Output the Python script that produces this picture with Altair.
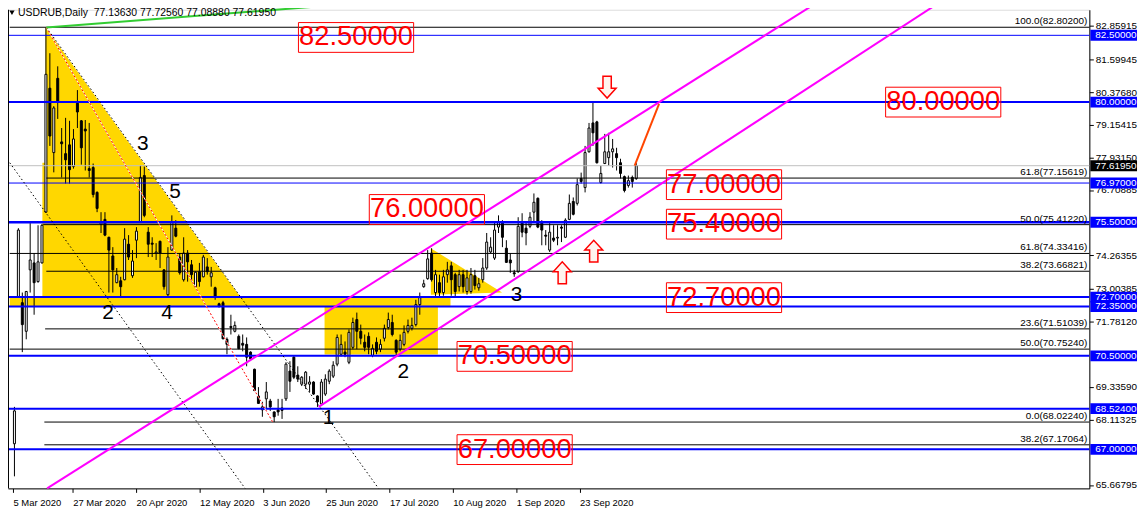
import altair as alt
import pandas as pd

W, H = 1089, 482
X_MIN = -0.375
X_MAX = X_MIN + W / 4.0
Y_MIN, Y_MAX = 65.539, 83.457
FONT = "Liberation Sans"

# ---------------- candles (daily bars, index 0 = first visible bar) ----------------
opens = [67.21, 72.72, 72.49, 71.42, 73.72, 73.98, 73.28, 73.98, 75.88, 80.52,
         78.11, 80.89, 78.51, 78.07, 78.40, 77.59, 79.96, 79.30, 78.99, 77.51,
         77.55, 76.62, 75.43, 75.61, 74.94, 74.24, 73.24, 73.31, 73.35, 74.68,
         73.50, 74.83, 75.50, 77.25, 75.13, 74.72, 74.35, 74.79, 73.72, 72.79,
         74.46, 75.28, 74.20, 73.35, 74.35, 73.91, 73.09, 73.65, 73.46, 73.83,
         73.46, 73.05, 72.45, 72.49, 71.12, 71.60, 71.42, 71.23, 70.97, 70.93,
         70.64, 70.00, 69.00, 68.48, 68.89, 68.81, 68.40, 68.48, 68.55, 68.89,
         69.93, 70.45, 69.78, 69.44, 69.44, 69.44, 69.52, 69.00, 68.70, 69.07,
         69.55, 69.74, 70.19, 70.56, 70.64, 70.26, 70.82, 71.86, 71.42, 71.01,
         71.23, 70.52, 71.01, 70.75, 71.16, 71.56, 71.75, 71.08, 70.75, 70.93,
         71.42, 71.53, 71.67, 72.42, 73.09, 73.39, 74.35, 72.87, 73.24, 72.87,
         73.54, 73.87, 73.54, 73.09, 73.54, 72.91, 72.91, 73.50, 73.05, 73.35,
         73.79, 74.39, 74.16, 75.32, 75.47, 74.53, 74.09, 73.61, 73.65, 75.47,
         75.28, 75.35, 75.88, 76.40, 75.47, 75.02, 74.46, 74.91, 74.91, 75.32,
         74.94, 75.61, 76.28, 76.21, 77.14, 76.80, 78.14, 79.22, 79.26, 76.99,
         77.70, 77.92, 78.14, 78.07, 77.73, 77.21, 76.88, 77.18, 77.1363]
highs = [68.59, 75.28, 72.87, 72.93, 75.47, 74.35, 75.39, 75.43, 82.802, 81.83,
         79.85, 81.34, 79.03, 79.41, 79.30, 78.99, 80.45, 79.33, 79.33, 79.22,
         77.70, 76.66, 75.88, 75.88, 74.96, 74.57, 73.79, 73.46, 75.28, 75.02,
         74.46, 75.32, 77.62, 77.59, 75.32, 74.94, 74.72, 74.81, 73.74, 74.57,
         75.76, 75.58, 74.35, 74.94, 74.46, 74.09, 73.66, 73.98, 74.28, 74.16,
         73.83, 73.09, 72.49, 72.56, 71.19, 72.04, 71.79, 71.30, 71.30, 71.19,
         70.67, 70.02, 69.33, 68.78, 69.52, 68.89, 68.42, 68.89, 68.89, 70.26,
         70.30, 70.52, 70.11, 69.74, 69.93, 69.74, 69.55, 69.02, 69.63, 69.81,
         70.00, 70.30, 71.30, 71.30, 71.04, 71.49, 71.93, 72.12, 71.67, 71.30,
         71.38, 70.93, 71.19, 71.12, 71.67, 72.12, 72.04, 71.12, 71.30, 71.64,
         71.86, 71.93, 72.60, 72.87, 73.35, 74.46, 74.53, 73.72, 73.54, 73.72,
         74.02, 74.02, 73.61, 73.72, 73.72, 73.72, 73.79, 73.72, 73.42, 74.16,
         75.10, 74.94, 75.50, 75.76, 75.58, 74.83, 74.35, 73.72, 75.69, 75.84,
         75.50, 75.88, 76.58, 76.43, 75.58, 75.21, 75.47, 75.39, 75.39, 75.39,
         75.65, 76.54, 76.43, 77.14, 77.36, 78.36, 79.22, 79.98, 79.30, 77.62,
         78.81, 78.85, 78.62, 78.29, 77.88, 77.25, 77.25, 77.25, 77.7256]
lows = [65.99, 72.70, 70.64, 71.12, 72.87, 72.04, 73.24, 73.96, 75.86, 78.36,
        77.37, 79.37, 77.18, 76.95, 76.95, 77.51, 79.03, 77.66, 77.44, 77.18,
        76.43, 75.88, 75.10, 74.98, 72.87, 72.87, 73.22, 72.72, 73.33, 74.09,
        73.42, 74.16, 75.48, 75.69, 74.20, 74.20, 74.09, 73.79, 72.98, 72.72,
        74.44, 74.94, 73.54, 73.28, 73.28, 73.28, 73.05, 73.09, 73.44, 73.54,
        73.09, 72.60, 72.32, 71.12, 70.56, 71.30, 71.38, 70.75, 70.67, 70.11,
        70.37, 69.18, 68.70, 68.22, 68.51, 68.44, 68.02, 68.26, 68.14, 68.81,
        69.15, 69.63, 69.52, 69.37, 69.26, 69.15, 69.04, 68.59, 68.63, 69.00,
        69.44, 69.67, 70.11, 70.48, 70.45, 70.19, 70.75, 70.75, 70.93, 70.67,
        70.56, 70.45, 70.56, 70.64, 71.04, 71.49, 71.23, 70.52, 70.67, 70.86,
        71.34, 71.45, 71.60, 72.04, 73.05, 73.35, 73.28, 72.72, 72.68, 72.75,
        73.24, 72.75, 72.72, 72.91, 72.87, 72.79, 72.83, 72.98, 72.94, 73.24,
        73.72, 74.35, 74.09, 75.10, 74.57, 73.98, 73.61, 73.46, 73.61, 74.94,
        74.64, 75.28, 75.50, 75.28, 74.64, 74.64, 74.39, 74.76, 74.64, 74.76,
        74.91, 75.58, 75.76, 76.13, 76.95, 76.62, 78.11, 78.36, 77.70, 76.95,
        77.68, 77.62, 77.55, 77.44, 77.14, 76.62, 76.80, 76.80, 77.0888]
closes = [68.44, 75.21, 71.67, 72.91, 74.09, 73.24, 74.02, 75.39, 81.04, 78.73,
          79.78, 80.00, 78.44, 77.84, 77.47, 78.62, 79.63, 78.29, 78.92, 77.44,
          76.54, 76.02, 75.50, 75.02, 74.46, 73.72, 73.54, 73.09, 74.87, 74.20,
          74.05, 75.17, 77.18, 75.76, 74.68, 74.68, 74.39, 74.35, 73.09, 74.20,
          75.50, 74.98, 73.61, 74.35, 74.02, 73.54, 73.63, 73.28, 74.20, 73.65,
          73.61, 72.72, 72.34, 71.14, 70.93, 71.56, 71.64, 70.77, 70.90, 70.45,
          70.39, 69.20, 68.72, 68.59, 69.15, 68.59, 68.22, 68.40, 68.46, 70.19,
          69.55, 69.70, 69.63, 69.70, 69.89, 69.52, 69.07, 68.78, 69.52, 69.63,
          69.93, 70.15, 71.19, 70.93, 70.56, 71.38, 71.75, 71.42, 71.16, 70.82,
          70.82, 70.78, 70.67, 70.93, 71.53, 71.86, 71.30, 70.64, 71.08, 71.38,
          71.64, 71.64, 72.42, 72.68, 73.20, 74.13, 73.35, 73.54, 72.87, 73.46,
          73.72, 73.35, 72.91, 73.54, 73.09, 73.42, 73.54, 73.13, 73.20, 73.79,
          74.76, 74.57, 75.21, 75.50, 74.94, 74.00, 73.98, 73.57, 75.35, 75.13,
          75.10, 75.69, 76.25, 75.32, 75.21, 74.98, 75.13, 74.83, 74.94, 75.28,
          75.58, 76.21, 75.80, 76.91, 77.03, 78.11, 79.03, 78.85, 77.73, 77.33,
          78.14, 78.14, 78.25, 77.92, 77.33, 76.69, 77.06, 77.03, 77.6195]

# ---------------- x axis labels ----------------
x_tick_pos = [-0.37, 14.8, 30.9, 47.0, 63.1, 79.1, 95.3, 111.4, 127.5, 143.6]
x_tick_labels = ["5 Mar 2020", "27 Mar 2020", "20 Apr 2020", "12 May 2020", "3 Jun 2020",
                 "25 Jun 2020", "17 Jul 2020", "10 Aug 2020", "1 Sep 2020", "23 Sep 2020"]
# ---------------- y axis labels ----------------
y_ticks = [82.85915, 81.59945, 80.37680, 79.15415, 77.93150, 76.70885, 74.26355,
           73.00385, 71.78120, 69.33590, 68.11325, 65.66795]

# ---------------- horizontal levels ----------------
blue_levels = [82.5, 80.0, 76.97, 75.5, 72.7, 72.35, 70.5, 68.524, 67.0]
blue_widths = [1, 2, 1, 2.5, 2, 2, 2, 2, 2]
current_price = 77.6195

fib_levels = [82.802, 77.15619, 75.4122, 74.33416, 73.66821, 71.51039, 70.7524, 68.0224, 67.17064]
fib_labels = ["100.0(82.80200)", "61.8(77.15619)", "50.0(75.41220)", "61.8(74.33416)",
              "38.2(73.66821)", "23.6(71.51039)", "50.0(70.75240)", "0.0(68.02240)",
              "38.2(67.17064)"]
fib_start = [-1.2, 8.1, 7.3, -1.2, 8.1, 7.8, -1.2, 7.6, 7.6]

# ---------------- annotations ----------------
red_box_text = ["82.50000", "80.00000", "77.00000", "76.00000", "75.40000",
                "72.70000", "70.50000", "67.00000"]
red_box_i = [86.8, 236.0, 180.3, 104.8, 180.3, 180.3, 127.1, 127.1]
red_box_p = [82.42, 80.00, 76.91, 75.98, 75.43, 72.68, 70.48, 66.99]

wave_text = ["3", "5", "2", "4", "1", "2", "3"]
wave_i = [32.6, 40.8, 23.8, 38.8, 79.8, 98.8, 127.6]
wave_p = [78.44, 76.62, 72.12, 72.12, 68.18, 69.89, 72.79]

arrow_dir = ["down", "up", "up"]
arrow_i = [150.6, 139.2, 147.2]
arrow_p = [80.56, 73.61, 74.42]

# trend lines: (id, index, price)
magenta_id = ["upper", "upper", "lower", "lower"]
magenta_i = [8.3, 203.0, 77.3, 234.1]
magenta_p = [65.54, 83.64, 68.59, 83.64]

black_dot_id = ["hyp", "hyp", "left", "left"]
black_dot_i = [8.1, 92.5, -1.2, 58.6]
black_dot_p = [82.80, 65.54, 77.73, 65.54]

red_dot_i = [8.1, 65.6]
red_dot_p = [82.80, 68.03]

green_i = [8.1, 82.3]
green_p = [82.79, 83.64]

orange_i = [157.6, 163.8]
orange_p = [77.62, 79.93]

# yellow shapes
tri1_i = [7.1, 7.85, 7.9, 57.3]
tri1_top = [77.73, 77.73, 82.80, 72.72]
tri1_bot = [72.72, 72.72, 72.72, 72.72]
tri3_i = [105.8, 123.9]
tri3_top = [74.53, 72.87]
tri3_bot = [72.79, 72.87]
rect_i1 = [-1.2, 78.8]
rect_i2 = [110.8, 107.6]
rect_p1 = [72.35, 70.55]
rect_p2 = [72.74, 72.34]

header = "USDRUB,Daily\u00a0\u00a077.13630 77.72560 77.08880 77.61950"

# ---------------- build ----------------
xs = alt.Scale(domain=[X_MIN, X_MAX], nice=False, zero=False)
ys = alt.Scale(domain=[Y_MIN, Y_MAX], nice=False, zero=False)

label_expr = "''"
for v, lab in reversed(list(zip(x_tick_pos, x_tick_labels))):
    label_expr = f"abs(datum.value - ({v})) < 0.05 ? '{lab}' : {label_expr}"

x_axis = alt.Axis(values=x_tick_pos, labelExpr=label_expr, labelAlign="left",
                  labelFlush=False, labelOverlap=False, labelBound=False,
                  tickSize=4, labelPadding=5, domainColor="black", tickColor="black",
                  labelColor="black", labelFontSize=9.5, labelFont=FONT, grid=False, title=None)
y_axis = alt.Axis(orient="right", values=y_ticks, format=".5f", tickSize=4, labelPadding=2,
                  domainColor="black", tickColor="black", labelColor="black",
                  labelFontSize=10, labelFont=FONT, grid=False, title=None,
                  labelOverlap=False, labelFlush=False, labelBound=False)


def X(f):
    return alt.X(f, scale=xs, axis=x_axis)


def Y(f):
    return alt.Y(f, scale=ys, axis=y_axis)


cdf = pd.DataFrame({"i": list(range(len(opens))), "o": opens, "h": highs, "l": lows, "c": closes})

yellow = "#FFD700"
tri1 = alt.Chart(pd.DataFrame({"i": tri1_i, "t": tri1_top, "b": tri1_bot})).mark_area(
    color=yellow, opacity=1).encode(x=X("i:Q"), y=Y("t:Q"), y2="b:Q")
tri3 = alt.Chart(pd.DataFrame({"i": tri3_i, "t": tri3_top, "b": tri3_bot})).mark_area(
    color=yellow, opacity=1).encode(x=X("i:Q"), y=Y("t:Q"), y2="b:Q")
rects = alt.Chart(pd.DataFrame({"i1": rect_i1, "i2": rect_i2, "p1": rect_p1, "p2": rect_p2})).mark_rect(
    color=yellow, opacity=1).encode(x=X("i1:Q"), x2="i2:Q", y=Y("p1:Q"), y2="p2:Q")

wick = alt.Chart(cdf).mark_rule(color="black", strokeWidth=1).encode(
    x=X("i:Q"), y=Y("l:Q"), y2="h:Q")
body = alt.Chart(cdf).mark_bar(size=2, stroke="black", strokeWidth=1).encode(
    x=X("i:Q"), y=Y("o:Q"), y2="c:Q",
    fill=alt.condition("datum.c >= datum.o", alt.value("white"), alt.value("black")))

grey = alt.Chart(pd.DataFrame({"p": [current_price]})).mark_rule(color="#C0C0C0", strokeWidth=1).encode(
    x=alt.value(0), x2=alt.value(W), y=Y("p:Q"))
fibdf = pd.DataFrame({"p": fib_levels, "lab": fib_labels, "s": fib_start})
fib_lines = alt.Chart(fibdf).mark_rule(color="black", strokeWidth=1).encode(
    x=X("s:Q"), x2=alt.value(W), y=Y("p:Q"))
fib_text = alt.Chart(fibdf).mark_text(align="right", baseline="bottom", dy=-1, fontSize=10,
                                      font=FONT, color="black").encode(
    x=alt.value(W - 2), y=Y("p:Q"), text="lab:N")
bluedf = pd.DataFrame({"p": blue_levels, "w": blue_widths})
blue_lines = alt.Chart(bluedf).mark_rule(color="#0000FF").encode(
    x=alt.value(0), x2=alt.value(W), y=Y("p:Q"), strokeWidth=alt.StrokeWidth("w:Q", scale=None))

mag = alt.Chart(pd.DataFrame({"id": magenta_id, "i": magenta_i, "p": magenta_p})).mark_line(
    color="#FF00FF", strokeWidth=2).encode(x=X("i:Q"), y=Y("p:Q"), detail="id:N")
bdot = alt.Chart(pd.DataFrame({"id": black_dot_id, "i": black_dot_i, "p": black_dot_p})).mark_line(
    color="black", strokeWidth=1, strokeDash=[1.5, 2.5]).encode(x=X("i:Q"), y=Y("p:Q"), detail="id:N")
rdf = pd.DataFrame({"i": red_dot_i, "p": red_dot_p})
rdot_bg = alt.Chart(rdf).mark_line(color="white", strokeWidth=1).encode(x=X("i:Q"), y=Y("p:Q"))
rdot = alt.Chart(rdf).mark_line(color="#FF0000", strokeWidth=1, strokeDash=[2, 2]).encode(
    x=X("i:Q"), y=Y("p:Q"))
green = alt.Chart(pd.DataFrame({"i": green_i, "p": green_p})).mark_line(
    color="#32CD32", strokeWidth=2).encode(x=X("i:Q"), y=Y("p:Q"))
orange = alt.Chart(pd.DataFrame({"i": orange_i, "p": orange_p})).mark_line(
    color="#FF4500", strokeWidth=2).encode(x=X("i:Q"), y=Y("p:Q"))

wdf = pd.DataFrame({"t": wave_text, "i": wave_i, "p": wave_p})
waves = alt.Chart(wdf).mark_text(fontSize=21, font=FONT, color="black").encode(
    x=X("i:Q"), y=Y("p:Q"), text="t:N")

rbdf = pd.DataFrame({"t": red_box_text, "i": red_box_i, "p": red_box_p})
box_path = "M-1,-0.2586L1,-0.2586L1,0.2586L-1,0.2586Z"
red_boxes = alt.Chart(rbdf).mark_point(shape=box_path, size=116 * 116, filled=False,
                                       stroke="#FF0000", strokeWidth=1, opacity=1).encode(
    x=X("i:Q"), y=Y("p:Q"))
red_text = alt.Chart(rbdf).mark_text(fontSize=27.5, font=FONT, color="#FF0000").encode(
    x=X("i:Q"), y=Y("p:Q"), text="t:N")

down_path = "M-0.38,-1L0.38,-1L0.38,0.1L0.82,0.1L0,1L-0.82,0.1L-0.38,0.1Z"
up_path = "M-0.38,1L0.38,1L0.38,-0.1L0.82,-0.1L0,-1L-0.82,-0.1L-0.38,-0.1Z"
adf = pd.DataFrame({"d": arrow_dir, "i": arrow_i, "p": arrow_p})
arr_down = alt.Chart(adf[adf.d == "down"]).mark_point(shape=down_path, size=484, filled=True,
                                                      fill="#FFF4EE", stroke="#FF0000",
                                                      strokeWidth=1.5, opacity=1).encode(
    x=X("i:Q"), y=Y("p:Q"))
arr_up = alt.Chart(adf[adf.d == "up"]).mark_point(shape=up_path, size=484, filled=True,
                                                  fill="#FFF4EE", stroke="#FF0000",
                                                  strokeWidth=1.5, opacity=1).encode(
    x=X("i:Q"), y=Y("p:Q"))

# right-hand level boxes
lvl_vals = blue_levels + [current_price]
lvl_cols = ["#0000FF"] * len(blue_levels) + ["black"]
lvdf = pd.DataFrame({"p": lvl_vals, "col": lvl_cols,
                     "t": [f"{v:.5f}" for v in lvl_vals]})
lbox_path = "M-1,-0.234L1,-0.234L1,0.234L-1,0.234Z"
lvl_box = alt.Chart(lvdf).mark_point(shape=lbox_path, size=47 * 47, filled=True, opacity=1,
                                     strokeWidth=0).encode(
    x=alt.value(W + 24.5), y=Y("p:Q"), fill=alt.Fill("col:N", scale=None))
lvl_text = alt.Chart(lvdf).mark_text(align="left", baseline="middle", fontSize=10, font=FONT,
                                     color="white").encode(
    x=alt.value(W + 6), y=Y("p:Q"), text="t:N")

left_border = alt.Chart(pd.DataFrame({"a": [0]})).mark_rule(color="black", strokeWidth=1).encode(
    x=alt.value(0.5), y=alt.value(0), y2=alt.value(H))

hdr = alt.Chart(pd.DataFrame({"t": [header]})).mark_text(
    align="left", baseline="middle", fontSize=10.5, font=FONT, color="black").encode(
    x=alt.value(10), y=alt.value(3), text="t:N")
hdr_tri = alt.Chart(pd.DataFrame({"a": [0]})).mark_point(
    shape="triangle-down", size=28, filled=True, color="black", opacity=1).encode(
    x=alt.value(4), y=alt.value(3))

chart = alt.layer(
    tri1, tri3, rects,
    wick, body,
    grey, fib_lines, blue_lines,
    bdot, rdot_bg, rdot, mag, green, orange,
    fib_text, waves, red_boxes, red_text, arr_down, arr_up,
    lvl_box, lvl_text, left_border, hdr, hdr_tri,
).properties(
    width=W, height=H,
    autosize=alt.AutoSizeParams(type="none"),
    padding={"left": 0, "top": 0, "right": 51, "bottom": 21},
).configure_view(strokeWidth=0).configure(background="white")

chart.save("out.html", embed_options={"renderer": "svg", "actions": False})
